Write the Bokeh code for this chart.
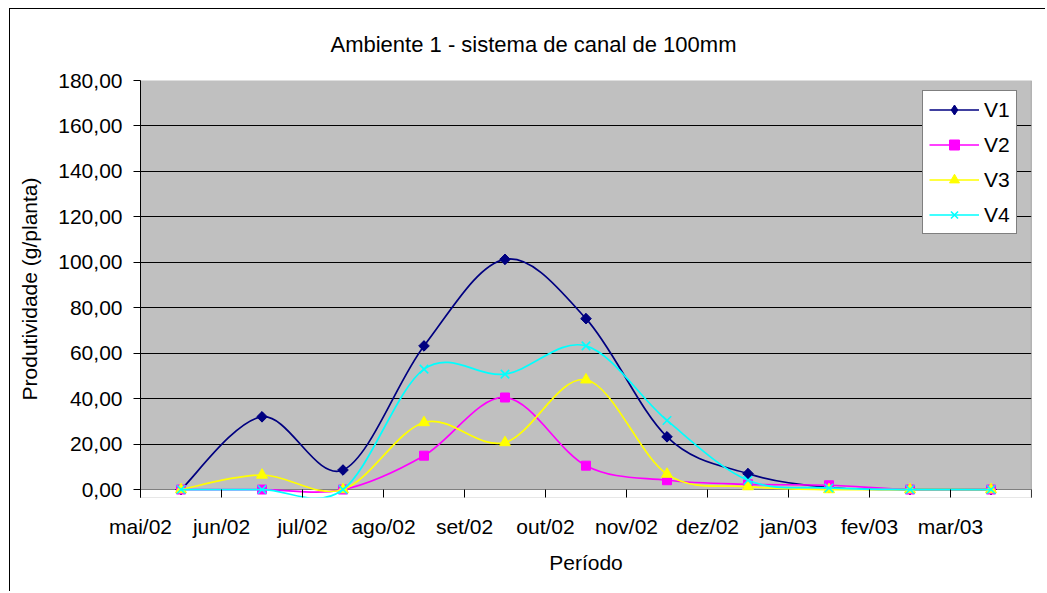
from bokeh.plotting import figure
from bokeh.models import (FixedTicker, ColumnDataSource, Legend, LegendItem,
                          BoxAnnotation, Span)
from bokeh.embed import file_html
from bokeh.resources import INLINE

# ---- data ----
title_text = "Ambiente 1 - sistema de canal de 100mm"
months = ["mai/02", "jun/02", "jul/02", "ago/02", "set/02", "out/02",
          "nov/02", "dez/02", "jan/03", "fev/03", "mar/03"]
V1 = [0.0, 32.0, 8.6, 63.2, 101.3, 75.2, 23.2, 7.0, 0.9, 0.0, 0.0]
V2 = [0.0, 0.0, 0.0, 14.9, 40.5, 10.5, 4.1, 2.3, 1.9, 0.0, 0.0]
V3 = [0.0, 6.4, 0.0, 29.5, 20.7, 48.3, 6.8, 1.3, 0.0, 0.0, 0.0]
V4 = [0.0, 0.0, 0.0, 53.0, 50.8, 63.2, 30.4, 4.1, 0.7, 0.0, 0.0]
y_ticks = [0, 20, 40, 60, 80, 100, 120, 140, 160, 180]

series = [
    ("V1", V1, "#000080", "square", 7.5, 0.785398),
    ("V2", V2, "#FF00FF", "square", 9, 0.0),
    ("V3", V3, "#FFFF00", "triangle", 11, 0.0),
    ("V4", V4, "#00FFFF", "x", 12, 0.0),
]

FONT = "Liberation Sans"
Y_BELOW = -3.5  # small strip under the zero line so markers at 0 are not cut

p = figure(width=1036, height=583, output_backend="svg", toolbar_location=None,
           x_range=(0, len(months)), y_range=(Y_BELOW, 180),
           min_border_left=130, min_border_right=15, min_border_top=71,
           min_border_bottom=95)
p.styles = {"margin-left": "9px", "margin-top": "8px",
            "border-left": "1px solid black", "border-top": "1px solid black"}

p.background_fill_color = "#C0C0C0"
p.border_fill_color = "white"
p.outline_line_color = None

# chart title (Excel centres it on the whole chart area, not the plot area)
p.title.text = title_text
p.title.align = "left"
p.title.offset = 190
p.title.vertical_align = "top"
p.title.standoff = 44
p.title.text_font = FONT
p.title.text_font_size = "22px"
p.title.text_font_style = "normal"
p.title.text_color = "black"

p.xgrid.visible = False
p.ygrid.ticker = FixedTicker(ticks=y_ticks)
p.ygrid.grid_line_color = "black"
p.ygrid.grid_line_width = 1

# white strip below zero
p.add_layout(BoxAnnotation(bottom=Y_BELOW, top=0, fill_color="white", fill_alpha=1,
                           line_color=None, level="underlay"))
# right edge of the plot area
p.add_layout(Span(location=len(months) - 0.001, dimension="height",
                  line_color="#808080", line_width=1))

# x axis: ticks hang from the zero line down to the frame bottom
p.xaxis.ticker = FixedTicker(ticks=list(range(len(months) + 1)))
overrides = {i: m for i, m in enumerate(months)}
overrides[len(months)] = ""
p.xaxis.major_label_overrides = overrides
p.xaxis.axis_label = "Período"
# y axis
p.yaxis.ticker = FixedTicker(ticks=y_ticks)
p.yaxis.major_label_overrides = {t: f"{t},00" for t in y_ticks}
p.yaxis.axis_label = "Produtividade (g/planta)"

for ax in (p.xaxis[0], p.yaxis[0]):
    ax.axis_line_color = "black"
    ax.major_tick_line_color = "black"
    ax.major_tick_in = 0
    ax.major_tick_out = 7
    ax.minor_tick_line_color = None
    ax.major_label_text_font = FONT
    ax.major_label_text_font_size = "21px"
    ax.major_label_text_color = "black"
    ax.axis_label_text_font = FONT
    ax.axis_label_text_font_size = "21px"
    ax.axis_label_text_font_style = "normal"
    ax.axis_label_text_color = "black"
p.xaxis.axis_line_color = None
p.xaxis.major_tick_in = 8
p.xaxis.major_tick_out = 0
p.xaxis.major_label_standoff = 17
p.xaxis.axis_label_standoff = 10
p.yaxis.major_label_standoff = 11
p.yaxis.axis_label_standoff = 14

xs = [i + 0.5 for i in range(len(months))]

items = []
for name, vals, color, marker, size, angle in series:
    n = len(vals)
    d = dict(x0=[], y0=[], x1=[], y1=[], cx0=[], cy0=[], cx1=[], cy1=[])
    for i in range(n - 1):
        im = max(i - 1, 0)
        ip = min(i + 2, n - 1)
        d["x0"].append(xs[i]); d["y0"].append(vals[i])
        d["x1"].append(xs[i + 1]); d["y1"].append(vals[i + 1])
        d["cx0"].append(xs[i] + (xs[i + 1] - xs[im]) / 6)
        d["cy0"].append(vals[i] + (vals[i + 1] - vals[im]) / 6)
        d["cx1"].append(xs[i + 1] - (xs[ip] - xs[i]) / 6)
        d["cy1"].append(vals[i + 1] - (vals[ip] - vals[i]) / 6)
    rb = p.bezier(x0="x0", y0="y0", x1="x1", y1="y1", cx0="cx0", cy0="cy0",
                  cx1="cx1", cy1="cy1", source=ColumnDataSource(d),
                  line_color=color, line_width=1.7)
    if marker == "x":
        rs = p.scatter(xs, vals, marker="x", size=size, line_color=color,
                       line_width=1.6)
    else:
        rs = p.scatter(xs, vals, marker=marker, size=size, angle=angle,
                       fill_color=color, line_color=color, line_width=1)
    if angle:
        # diamond drawn inside the rotated square; used for the legend swatch
        rs = p.scatter(xs, vals, marker="diamond", size=size * 1.3,
                       fill_color=color, line_color=color, line_width=1)
    items.append(LegendItem(label=name, renderers=[rb, rs]))

legend = Legend(items=items, location=(782, 263))
legend.border_line_color = "black"
legend.border_line_width = 1
legend.background_fill_color = "white"
legend.background_fill_alpha = 1
legend.label_text_font = FONT
legend.label_text_font_size = "21px"
legend.label_text_color = "black"
legend.padding = 6
legend.spacing = 10
legend.label_height = 25
legend.glyph_height = 25
legend.glyph_width = 50
legend.label_standoff = 5
legend.margin = 0
p.add_layout(legend, "center")

open("out.html", "w").write(file_html(p, INLINE))
